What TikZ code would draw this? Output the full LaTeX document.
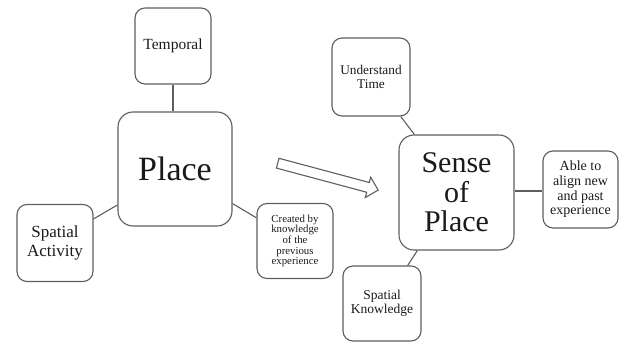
\documentclass[tikz,border=0pt]{standalone}
\usepackage{fontspec}
\setmainfont{Liberation Serif}
\usetikzlibrary{shapes.arrows}
\definecolor{edgegray}{HTML}{5E5E5E}
\definecolor{txt}{HTML}{1A1A1A}
\tikzset{
  box/.style={draw=edgegray, line width=1.1pt, rounded corners=10pt, align=center, inner sep=0pt, text=txt},
  bigbox/.style={box, rounded corners=15pt},
  link/.style={draw=edgegray, line width=1.1pt},
}
\begin{document}
\begin{tikzpicture}[x=1pt,y=-1pt]
\useasboundingbox (0,0) rectangle (619,342);
\node[box, minimum width=76pt, minimum height=76pt, font=\fontsize{15.5}{17}\selectfont] (temporal) at (173,46) {Temporal};
\node[bigbox, minimum width=114pt, minimum height=114pt, font=\fontsize{34}{38}\selectfont] (place) at (175,169) {Place};
\node[box, minimum width=76pt, minimum height=77pt, font=\fontsize{17}{18.5}\selectfont] (spatialact) at (55,243) {Spatial\\Activity};
\node[box, minimum width=76pt, minimum height=75pt, font=\fontsize{10.8}{10.6}\selectfont] (created) at (295,241) {Created by\\knowledge\\of the\\previous\\experience};
\node[box, minimum width=78pt, minimum height=78pt, font=\fontsize{13.3}{13.5}\selectfont] (understand) at (371,77) {Understand\\Time};
\node[bigbox, minimum width=115pt, minimum height=115pt, font=\fontsize{30}{29.5}\selectfont] (sense) at (456.5,192.5) {Sense\\of\\Place};
\node[box, minimum width=75pt, minimum height=77pt, font=\fontsize{14}{14.7}\selectfont] (able) at (580.5,189.5) {Able to\\align new\\and past\\experience};
\node[box, minimum width=78pt, minimum height=75pt, font=\fontsize{13.5}{14}\selectfont] (spknow) at (382,303.5) {Spatial\\Knowledge};
\node[single arrow, draw=edgegray, line width=1.1pt, minimum height=104pt, inner xsep=0pt, inner ysep=4.5pt, single arrow head extend=5.5pt, rotate=-15] (bigarrow) at (325.5,176) {};
\draw[link] (temporal.south) -- (temporal.south |- place.north);
\draw[link] (spatialact.32) -- (place.212);
\draw[link] (place.-31) -- (created.149);
\draw[link] (understand.-53) -- (sense.126);
\draw[link] (sense.east |- 0,191) -- (able.west |- 0,191);
\draw[link] (spknow.56) -- (sense.236);
\end{tikzpicture}
\end{document}
